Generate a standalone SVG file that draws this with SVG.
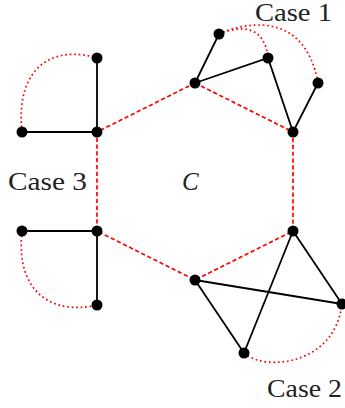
<svg xmlns="http://www.w3.org/2000/svg" width="345" height="408" viewBox="0 0 345 408">
<style>
.e{stroke:#000;stroke-width:1.8;fill:none}
.d{stroke:#f00;stroke-width:1.7;fill:none;stroke-dasharray:4.2 2.6}
.o{stroke:#f00;stroke-width:1.7;fill:none;stroke-dasharray:1.7 2.8}
.n{fill:#000}
.t{font-family:"Liberation Serif","DejaVu Serif",serif;font-size:25px;fill:#222}
</style>
<rect width="345" height="408" fill="#fff"/>
<g id="connectors">
<path class="d" d="M195,83 L293,132 L293,231 L195,280 L97,231 L97,132 Z"/>
<path class="e" d="M195,83 L219,34 M195,83 L268,58 L293,132 L318,83"/>
<path class="e" d="M293,231 L342,304 M293,231 L244,353 M195,280 L342,304 M195,280 L244,353"/>
<path class="e" d="M97,132 L22,132 M97,132 L97,58 M97,231 L22,231 M97,231 L97,305"/>
<path class="o" d="M219,34 C240,25 265,25 268,58"/>
<path class="o" d="M219,34 C245,22 305,10 318,83"/>
<path class="o" d="M244,353 C265,372 335,365 342,304"/>
<path class="o" d="M22,132 C15,65 55,45 97,58"/>
<path class="o" d="M22,231 C15,295 55,315 97,305"/>
</g>
<g id="hex-top"><circle class="n" cx="195" cy="83" r="5.5"/></g>
<g id="hex-ur"><circle class="n" cx="293" cy="132" r="5.5"/></g>
<g id="hex-lr"><circle class="n" cx="293" cy="231" r="5.5"/></g>
<g id="hex-bottom"><circle class="n" cx="195" cy="280" r="5.5"/></g>
<g id="hex-ll"><circle class="n" cx="97" cy="231" r="5.5"/></g>
<g id="hex-ul"><circle class="n" cx="97" cy="132" r="5.5"/></g>
<g id="c1-a"><circle class="n" cx="219" cy="34" r="5.5"/></g>
<g id="c1-b"><circle class="n" cx="268" cy="58" r="5.5"/></g>
<g id="c1-c"><circle class="n" cx="318" cy="83" r="5.5"/></g>
<g id="c2-a"><circle class="n" cx="342" cy="304" r="5.5"/></g>
<g id="c2-b"><circle class="n" cx="244" cy="353" r="5.5"/></g>
<g id="c3-a"><circle class="n" cx="97" cy="58" r="5.5"/></g>
<g id="c3-b"><circle class="n" cx="22" cy="132" r="5.5"/></g>
<g id="c3-c"><circle class="n" cx="22" cy="231" r="5.5"/></g>
<g id="c3-d"><circle class="n" cx="97" cy="305" r="5.5"/></g>
<g id="labels">
<text class="t" x="255" y="21" font-size="23" textLength="77" lengthAdjust="spacingAndGlyphs">Case 1</text>
<text class="t" x="8" y="190" textLength="79" lengthAdjust="spacingAndGlyphs">Case 3</text>
<text class="t" x="267" y="397" textLength="75" lengthAdjust="spacingAndGlyphs">Case 2</text>
<text class="t" x="182" y="190" font-style="italic">C</text>
</g>
</svg>
